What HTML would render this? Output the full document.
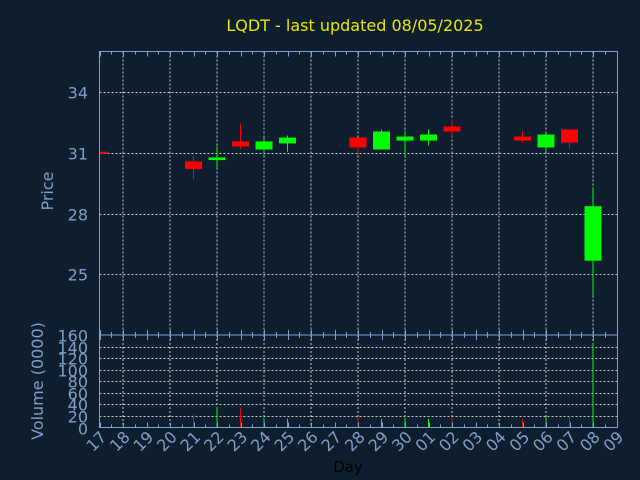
<!DOCTYPE html>
<html><head><meta charset="utf-8">
<style>
html,body{margin:0;padding:0;background:#0f1e2f;}
svg{display:block;font-family:"DejaVu Sans","Liberation Sans",sans-serif;}
</style></head>
<body>
<svg id="chart" width="640" height="480" xmlns="http://www.w3.org/2000/svg">
<rect x="0" y="0" width="640" height="480" fill="#0f1e2f"/>
<text x="355" y="31" fill="#e8e800" font-size="16" text-anchor="middle">LQDT - last updated 08/05/2025</text>
<text transform="translate(53,191) rotate(-90)" fill="#7f9fc8" font-size="16" text-anchor="middle">Price</text>
<text transform="translate(43,381) rotate(-90)" fill="#7f9fc8" font-size="16" text-anchor="middle">Volume (0000)</text>
<text x="348" y="472" fill="#000000" font-size="15" text-anchor="middle">Day</text>
<g id="grid"></g>
<g id="marks"></g>
<g id="frames"></g>
<g id="labels"></g>
</svg>
<script>
const days = ["17","18","19","20","21","22","23","24","25","26","27","28","29","30","01","02","03","04","05","06","07","08","09"];
const candleDays = ["17","21","22","23","24","25","28","29","30","01","02","05","06","07","08"];
const opens  = [31.05,30.57,30.64,31.56,31.16,31.46,31.75,31.16,31.60,31.60,32.30,31.80,31.26,32.15,25.67];
const closes = [30.97,30.19,30.77,31.31,31.56,31.75,31.26,32.05,31.80,31.90,32.05,31.60,31.90,31.50,28.36];
const highs  = [31.05,30.82,31.32,32.44,31.75,31.85,31.75,32.15,32.10,32.15,32.64,32.05,31.95,32.15,29.30];
const lows   = [30.97,29.70,30.29,31.18,30.88,31.05,30.88,31.16,30.88,31.36,31.80,31.50,31.05,31.20,23.93];
const volumes= [0,22.5,35.7,33,17,15,19.5,15,17,15,17,15,19,19.5,146.6];
const priceTicks = [25,28,31,34];
const volTicks = [0,20,40,60,80,100,120,140,160];

const NS="http://www.w3.org/2000/svg";
const L=99.5,R=617.5,PT=51.5,PB=335,VB=427.5;
const PMIN=22,PMAX=36,VMAX=160;
const xOf=i=>L+i*(R-L-1)/22;
const yP=p=>PB-(p-PMIN)/(PMAX-PMIN)*(PB-PT);
const yV=v=>VB-v/VMAX*(VB-PB);
function mk(tag,attrs,parent){const e=document.createElementNS(NS,tag);for(const k in attrs)e.setAttribute(k,attrs[k]);document.getElementById(parent).appendChild(e);return e;}
const gc="#c8c8c8",fc="#7fa0d0",tc="#7f9fc8";

// vertical grid lines on odd indices
for(let i=1;i<23;i+=2){
  const g1=mk("line",{x1:xOf(i),x2:xOf(i),y1:PT,y2:PB,stroke:gc,"stroke-dasharray":"2,2","stroke-width":1},"grid");
  
  
  const g2=mk("line",{x1:xOf(i),x2:xOf(i),y1:PB,y2:VB,stroke:gc,"stroke-dasharray":"2,2","stroke-width":1},"grid");
  
  
}
priceTicks.forEach(t=>{
  const y=Math.round(yP(t))+0.5;
  const g=mk("line",{x1:L,x2:R,y1:y,y2:y,stroke:gc,"stroke-dasharray":"2,2"},"grid");
  
  
  const tx=mk("text",{x:88,y:y+6,fill:tc,"font-size":16,"text-anchor":"end"},"labels");
  tx.textContent=t;
  
  
});
volTicks.forEach(t=>{
  const y=Math.round(yV(t))+0.5;
  if(t>0&&t<160){const g=mk("line",{x1:L,x2:R,y1:y,y2:y,stroke:gc,"stroke-dasharray":"2,2"},"grid");
  
  }
  const tx=mk("text",{x:88,y:y+6,fill:tc,"font-size":16,"text-anchor":"end"},"labels");
  tx.textContent=t;
  
  
});
days.forEach((d,i)=>{
  const x=xOf(i);
  const tx=mk("text",{transform:`translate(${x+8},${438}) rotate(-45)`,fill:tc,"font-size":16,"text-anchor":"end"},"labels");
  tx.textContent=d;
  
  
});
// candles and volume
candleDays.forEach((d,k)=>{
  const i=days.indexOf(d);const x=xOf(i);
  const up=closes[k]>=opens[k];const col=up?"#00ff00":"#ff0000";
  const w=mk("line",{x1:x,x2:x,y1:yP(highs[k]),y2:yP(lows[k]),stroke:col,"stroke-width":1},"marks");
  
  
  const top=yP(Math.max(opens[k],closes[k])),bot=yP(Math.min(opens[k],closes[k]));
  let bx=x-8.5,bw=17;
  if(bx<L){bw=bw-(L-bx);bx=L;}
  const b=mk("rect",{x:bx,y:top,width:bw,height:Math.max(bot-top,2),fill:col},"marks");
  
  
  if(volumes[k]>0){
    const v=mk("line",{x1:x,x2:x,y1:yV(volumes[k]),y2:VB,stroke:col,"stroke-width":1},"marks");
    
    
  }
});
// frames and minor ticks
const f1=mk("rect",{x:L,y:PT,width:R-L,height:PB-PT,fill:"none",stroke:fc,"stroke-width":1},"frames");


const f2=mk("rect",{x:L,y:PB,width:R-L,height:VB-PB,fill:"none",stroke:fc,"stroke-width":1},"frames");


for(let i=0;i<=44;i++){
  const x=Math.round(L+i*(R-L-1)/44)+0.5;const len=(i%2===0)?5:3;
  [[PT,PT+len],[PB,PB-len],[PB,PB+len],[VB,VB-len]].forEach(p=>{
    const t=mk("line",{x1:x,x2:x,y1:p[0],y2:p[1],stroke:fc},"frames");
    
    
  });
}
</script>
</body></html>
